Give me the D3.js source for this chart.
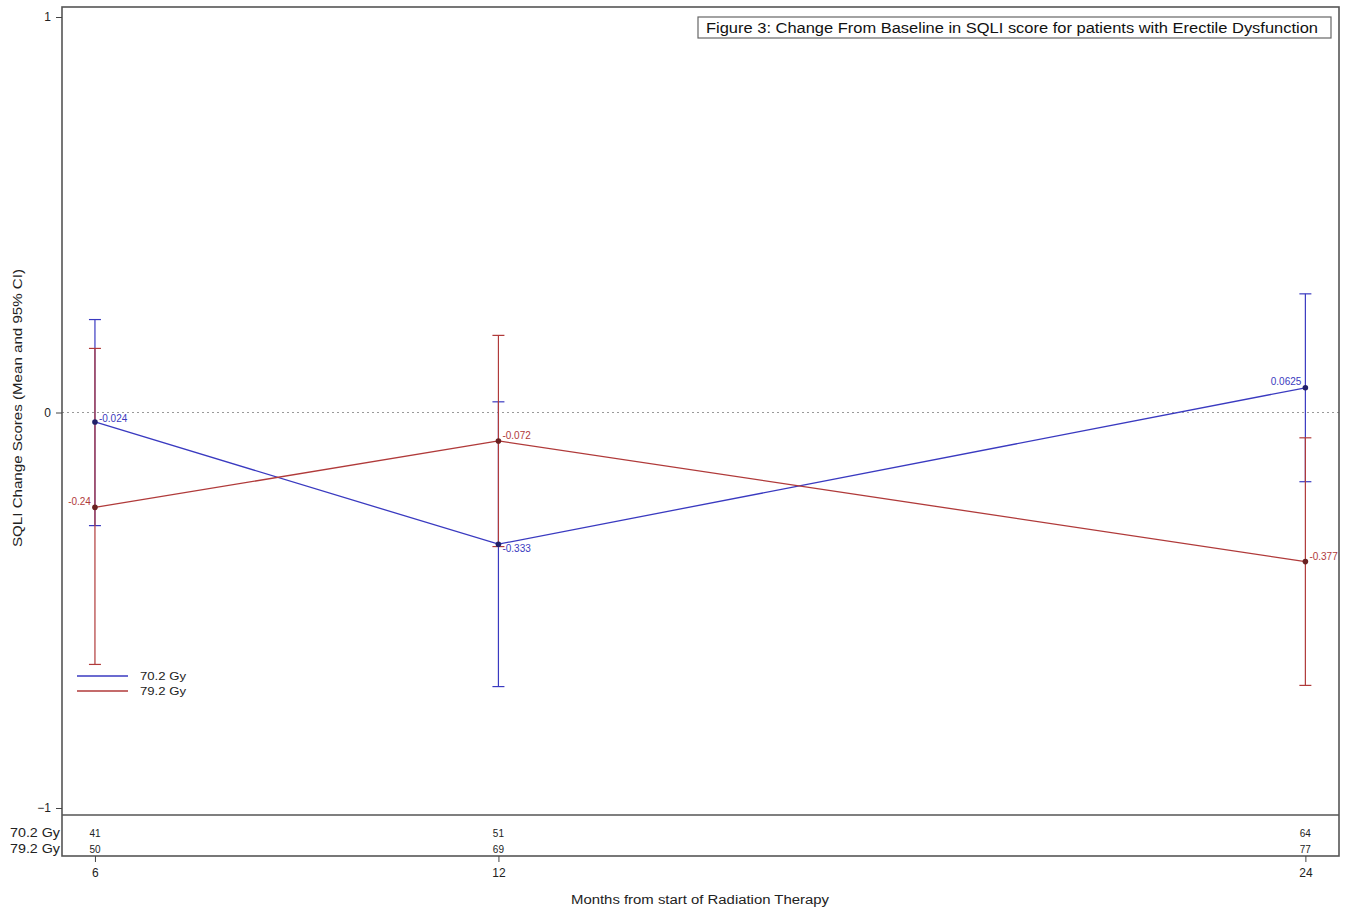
<!DOCTYPE html>
<html>
<head>
<meta charset="utf-8">
<script src="https://cdn.jsdelivr.net/npm/d3@7"></script>
<style>
  body { margin: 0; background: #fff; }
  svg { font-family: "Liberation Sans", Arial, sans-serif; }
</style>
</head>
<body>
<svg id="chart" width="1352" height="914"></svg>
<script>
// months and per-arm summary stats (mean, lower / upper 95% CI)
var months = [6, 12, 24];
var arms = ["70.2 Gy", "79.2 Gy"];
var armColors = ["#3a3ac0", "#b03a3a"];
var means70 = [-0.024, -0.333, 0.0625];
var lower70 = [-0.286, -0.693, -0.175];
var upper70 = [0.235, 0.027, 0.300];
var means79 = [-0.24, -0.072, -0.377];
var lower79 = [-0.637, -0.339, -0.690];
var upper79 = [0.162, 0.195, -0.064];
var labels70 = ["-0.024", "-0.333", "0.0625"];
var labels79 = ["-0.24", "-0.072", "-0.377"];
var atRisk70 = [41, 51, 64];
var atRisk79 = [50, 69, 77];
var yTicks = [-1, 0, 1];
var title = "Figure 3: Change From Baseline in SQLI score for patients with Erectile Dysfunction";

var svg = d3.select("#chart");
var pLeft = 62, pRight = 1339, pTop = 7, plotBottom = 815, tableBottom = 856;

var x = d3.scaleLinear().domain([5.51, 24.5]).range([pLeft, pRight]);
var y = d3.scaleLinear().domain([-1, 1]).range([808, 17]);

var series = [
  {name: arms[0], color: armColors[0], mean: means70, lo: lower70, hi: upper70, lab: labels70},
  {name: arms[1], color: armColors[1], mean: means79, lo: lower79, hi: upper79, lab: labels79}
];

// reference line at zero
svg.append("line")
  .attr("x1", pLeft).attr("x2", pRight)
  .attr("y1", y(0)).attr("y2", y(0))
  .attr("stroke", "#999").attr("stroke-width", 1)
  .attr("stroke-dasharray", "2,3");

// error bars first, then mean lines
series.forEach(function(s){
  var g = svg.append("g");
  months.forEach(function(m, i){
    g.append("line")
      .attr("x1", x(m)).attr("x2", x(m))
      .attr("y1", y(s.lo[i])).attr("y2", y(s.hi[i]))
      .attr("stroke", s.color).attr("stroke-width", 1.2);
    [s.lo[i], s.hi[i]].forEach(function(v){
      g.append("line")
        .attr("x1", x(m) - 6).attr("x2", x(m) + 6)
        .attr("y1", y(v)).attr("y2", y(v))
        .attr("stroke", s.color).attr("stroke-width", 1.2);
    });
  });
});

var line = d3.line().x(function(d){ return x(d[0]); }).y(function(d){ return y(d[1]); });

series.forEach(function(s){
  var pts = months.map(function(m, i){ return [m, s.mean[i]]; });
  svg.append("path")
    .datum(pts)
    .attr("d", line)
    .attr("fill", "none")
    .attr("stroke", s.color)
    .attr("stroke-width", 1.3);
  svg.selectAll(null).data(pts).enter().append("circle")
    .attr("cx", function(d){ return x(d[0]); })
    .attr("cy", function(d){ return y(d[1]); })
    .attr("r", 2.8)
    .attr("fill", s.color === armColors[0] ? "#22226a" : "#6a2222");
});

// value labels
var labelPos = [
  [[4, 0, "start"], [4, 8, "start"], [-4, -3, "end"]],
  [[-4, -2, "end"], [4, -2, "start"], [4, -2, "start"]]
];
series.forEach(function(s, si){
  months.forEach(function(m, i){
    var p = labelPos[si][i];
    svg.append("text")
      .attr("x", x(m) + p[0])
      .attr("y", y(s.mean[i]) + p[1])
      .attr("text-anchor", p[2])
      .attr("font-size", 10)
      .attr("fill", s.color)
      .text(s.lab[i]);
  });
});

// legend
series.forEach(function(s, i){
  var ly = 676 + i * 15;
  svg.append("line")
    .attr("x1", 77).attr("x2", 128)
    .attr("y1", ly).attr("y2", ly)
    .attr("stroke", s.color).attr("stroke-width", 1.3);
  svg.append("text")
    .attr("x", 140).attr("y", ly + 4)
    .attr("font-size", 11).attr("fill", "#222")
    .attr("textLength", 46).attr("lengthAdjust", "spacingAndGlyphs")
    .text(s.name);
});

// title box
var tbox = svg.append("g");
tbox.append("rect")
  .attr("x", 698).attr("y", 17).attr("width", 633).attr("height", 21)
  .attr("fill", "#fff").attr("stroke", "#666").attr("stroke-width", 1.2);
tbox.append("text")
  .attr("x", 706).attr("y", 32.5)
  .attr("font-size", 14).attr("fill", "#111")
  .attr("textLength", 612).attr("lengthAdjust", "spacingAndGlyphs")
  .text(title);

// frame
svg.append("rect")
  .attr("x", pLeft).attr("y", pTop)
  .attr("width", pRight - pLeft).attr("height", tableBottom - pTop)
  .attr("fill", "none").attr("stroke", "#555").attr("stroke-width", 1.6);
svg.append("line")
  .attr("x1", pLeft).attr("x2", pRight)
  .attr("y1", plotBottom).attr("y2", plotBottom)
  .attr("stroke", "#555").attr("stroke-width", 1.6);

// y axis
var yAxis = svg.append("g")
  .attr("transform", "translate(" + pLeft + ",0)")
  .call(d3.axisLeft(y).tickValues(yTicks).tickFormat(d3.format("d")).tickSize(6).tickPadding(5));
yAxis.select(".domain").remove();
yAxis.selectAll("text").attr("font-size", 12).attr("fill", "#222").attr("font-family", "Liberation Sans, Arial, sans-serif");
yAxis.selectAll("line").attr("stroke", "#444");

svg.append("text")
  .attr("transform", "translate(22,408) rotate(-90)")
  .attr("text-anchor", "middle")
  .attr("font-size", 12).attr("fill", "#222")
  .attr("textLength", 278).attr("lengthAdjust", "spacingAndGlyphs")
  .text("SQLI Change Scores (Mean and 95% CI)");

// at-risk table
var tableRows = [atRisk70, atRisk79];
tableRows.forEach(function(row, r){
  var ty = 837 + r * 16;
  svg.append("text")
    .attr("x", 10).attr("y", ty)
    .attr("font-size", 12).attr("fill", "#222")
    .attr("textLength", 50).attr("lengthAdjust", "spacingAndGlyphs")
    .text(arms[r]);
  svg.selectAll(null).data(row).enter().append("text")
    .attr("x", function(d, i){ return x(months[i]); })
    .attr("y", ty - 0.5)
    .attr("text-anchor", "middle")
    .attr("font-size", 10).attr("fill", "#222")
    .text(function(d){ return d; });
});

// x axis
var xAxis = svg.append("g")
  .attr("transform", "translate(0," + tableBottom + ")")
  .call(d3.axisBottom(x).tickValues(months).tickFormat(d3.format("d")).tickSize(6).tickPadding(6));
xAxis.select(".domain").remove();
xAxis.selectAll("text").attr("font-size", 12).attr("fill", "#222").attr("font-family", "Liberation Sans, Arial, sans-serif");
xAxis.selectAll("line").attr("stroke", "#444");

svg.append("text")
  .attr("x", 700).attr("y", 904)
  .attr("text-anchor", "middle")
  .attr("font-size", 12).attr("fill", "#222")
  .attr("textLength", 258).attr("lengthAdjust", "spacingAndGlyphs")
  .text("Months from start of Radiation Therapy");
</script>
</body>
</html>
